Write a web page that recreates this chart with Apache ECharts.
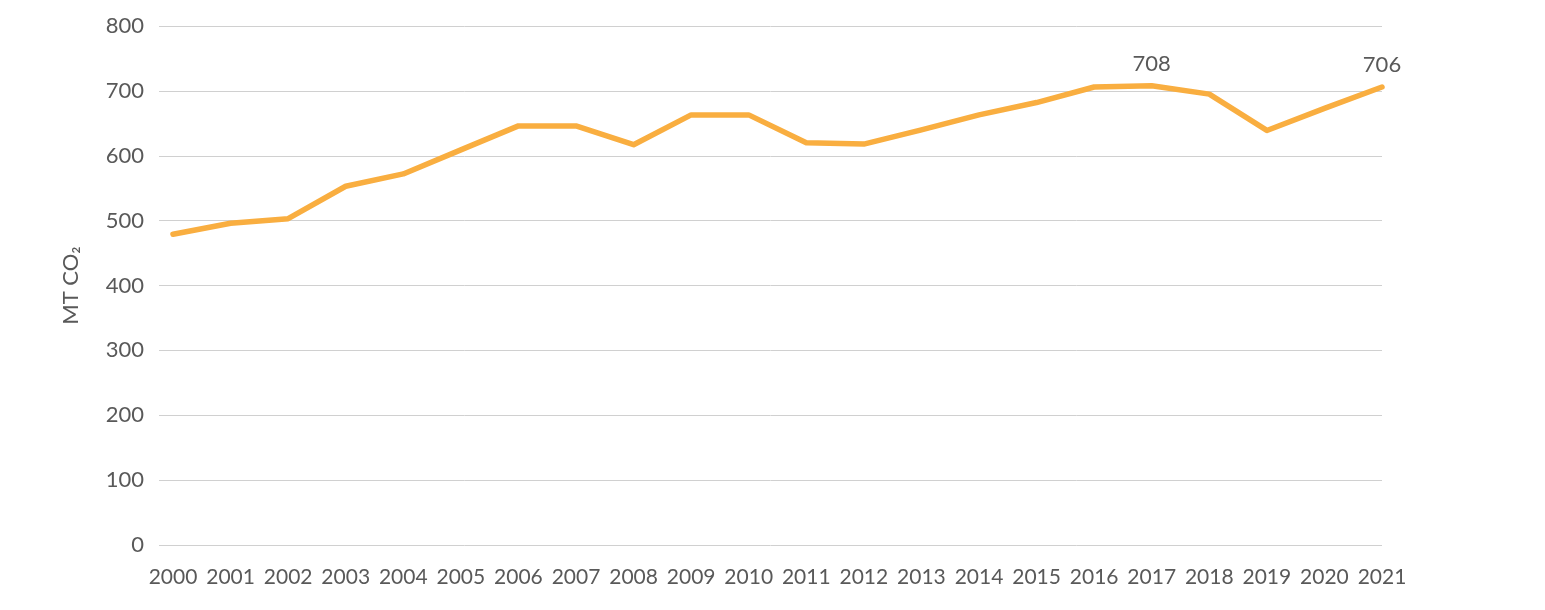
<!DOCTYPE html>
<html>
<head>
<meta charset="utf-8">
<script src="https://cdn.jsdelivr.net/npm/echarts@6/dist/echarts.min.js"></script>
<style>
  html, body { margin: 0; padding: 0; background: #fff; }
  #chart { width: 1545px; height: 610px; }
</style>
</head>
<body>
<div id="chart"></div>
<script>
const years = [2000, 2001, 2002, 2003, 2004, 2005, 2006, 2007, 2008, 2009, 2010,
  2011, 2012, 2013, 2014, 2015, 2016, 2017, 2018, 2019, 2020, 2021];
const emissions = [479, 496, 503, 553, 572, 609, 646, 646, 617, 663, 663,
  620, 618, 640, 663, 682, 706, 708, 695, 639, 673, 706];
const labelledYears = [2017, 2021];

const textColor = "#595959";
const font = "Lato";

let points = [];
for (let i = 0; i < years.length; i++) {
  points.push({
    value: [years[i], emissions[i]],
    label: { show: labelledYears.indexOf(years[i]) >= 0 }
  });
}

let option = {
  animation: false,
  grid: { left: 159, right: 163, top: 26, bottom: 65 },
  xAxis: {
    type: "value",
    min: 1999.757,
    max: 2021,
    axisLine: { show: false },
    axisTick: { show: false },
    splitLine: { show: false },
    axisLabel: {
      customValues: years,
      color: textColor,
      fontFamily: font,
      fontSize: 21,
      margin: 22,
      formatter: v => String(v)
    }
  },
  yAxis: {
    type: "value",
    min: 0,
    max: 800,
    interval: 100,
    name: "MT CO\u2082",
    nameLocation: "middle",
    nameRotate: 90,
    nameGap: 77,
    nameTextStyle: { color: textColor, fontFamily: font, fontSize: 22 },
    axisLine: { show: false },
    axisTick: { show: false },
    axisLabel: {
      color: textColor,
      fontFamily: font,
      fontSize: 22,
      margin: 15
    },
    splitLine: { lineStyle: { color: "#d0d0d0", width: 1 } }
  },
  series: [
    {
      type: "line",
      data: points,
      symbol: "circle",
      symbolSize: 0,
      showSymbol: true,
      lineStyle: { color: "#F9AE40", width: 5.5, cap: "round", join: "round" },
      itemStyle: { color: "#F9AE40" },
      label: {
        show: false,
        position: "top",
        distance: 11,
        color: textColor,
        fontFamily: font,
        fontSize: 22,
        formatter: p => p.value[1]
      }
    }
  ]
};

let myChart = echarts.init(document.getElementById("chart"));
myChart.setOption(option);
window.addEventListener("resize", function() {
  myChart.resize();
});
</script>
</body>
</html>
